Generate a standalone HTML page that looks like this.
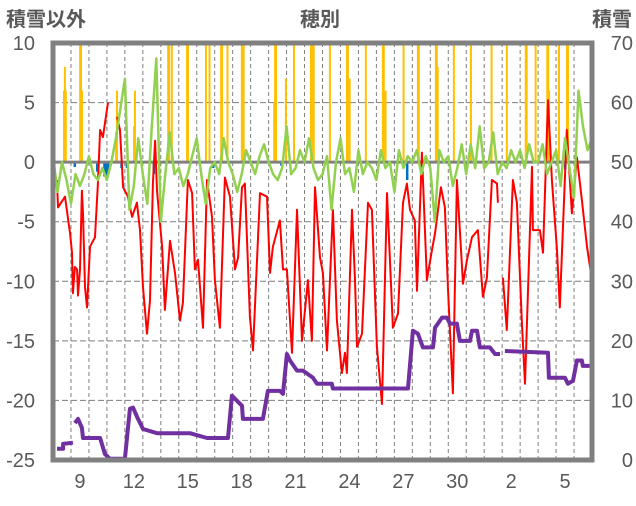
<!DOCTYPE html>
<html><head><meta charset="utf-8"><style>
body{margin:0;background:#fff;}
svg text{font-family:"Liberation Sans","Noto Sans CJK JP",sans-serif;fill:#595959;}
</style></head><body>
<svg id="c" width="636" height="501" xmlns="http://www.w3.org/2000/svg">
<text x="6" y="26" font-size="20" font-weight="bold">積雪以外</text>
<text x="320" y="26" font-size="20" font-weight="bold" text-anchor="middle">穂別</text>
<text x="632" y="26" font-size="20" font-weight="bold" text-anchor="end">積雪</text>
</svg>
<script>
const dayLabels=["9","12","15","18","21","24","27","30","2","5"];
const dayLabelIdx=[1,4,7,10,13,16,19,22,25,28];
const leftTicks=[10,5,0,-5,-10,-15,-20,-25];
const rightTicks=[70,60,50,40,30,20,10,0];
const redT=[0.22,0.28,0.67,0.95,1.06,1.11,1.22,1.34,1.39,1.5,1.61,1.67,1.78,1.89,2.06,2.34,2.5,2.62,2.78,3.06,null,3.56,3.73,3.9,4.17,4.4,4.67,4.84,5.01,5.23,5.4,5.56,5.68,5.79,6.07,6.23,6.51,6.79,7.07,7.23,7.51,7.74,7.9,8.07,8.35,8.57,8.85,9.01,9.29,9.57,9.85,10.13,10.3,10.52,10.68,10.96,11.13,11.52,11.91,12.08,12.24,12.63,12.8,13.02,13.3,13.58,13.86,14.19,14.41,14.58,14.86,15.02,15.25,15.58,15.8,16.08,16.25,16.36,16.64,16.81,16.92,17.2,17.53,17.75,18.03,18.31,18.59,18.92,19.2,19.48,19.7,19.87,20.14,20.26,20.53,20.81,21.09,21.26,21.59,21.81,21.98,22.26,22.48,22.82,23.04,23.32,23.65,23.93,24.15,24.43,24.71,24.76,null,25.04,25.26,25.6,25.82,26.1,26.27,26.66,26.71,27.1,27.27,27.55,27.77,28.05,28.21,28.6,28.88,29.16,29.44,29.72,29.94];
const redV=[-1.5,-3.8,-2.9,-6,-7.6,-11,-8.8,-9,-11.2,-9,-2.4,-4.3,-10.5,-12.2,-7.1,-6.3,-1.8,2.7,2.1,5,null,3.8,2.7,-2.1,-2.9,-4.6,-3.4,-5.7,-10.5,-14.4,-11.6,-1.8,1.8,-2.4,-7.1,-12.4,-6.6,-9.3,-13.3,-11.8,-1.5,-2.6,-9,-8.2,-13.9,-1.5,-4.6,-9.9,-13.9,-1.3,-2.9,-9,-8,-2.1,-1.8,-13,-15.8,-2.6,-2.9,-9.3,-7.1,-4.9,-9,-9,-16,-4,-15,-9.9,-15,-2.1,-8,-9.3,-15.8,-4,-13.3,-17.7,-16,-17.7,-4,-9.9,-15.5,-14.4,-3.4,-4,-15.5,-20.3,-2.6,-13.9,-12.7,-3.4,-1.8,-4,-4.9,-10.8,0.8,-9.9,-7.4,-6,-2.1,-3.8,-10.5,-19.4,-1.5,-10.2,-8.2,-6.3,-5.7,-11.3,-9.7,-1.5,-1.8,-3.4,null,-9.7,-14.1,-1.5,-3.4,-13.5,-18.6,-0.4,-5.7,-5.7,-7.6,5.2,-1.5,-7.4,-12.2,2.7,-4.3,0.4,-3.2,-7.1,-9.3];
const purT=[0.22,0.56,0.56,1.11,null,1.22,1.39,1.61,1.67,2.62,2.89,3.17,4.0,4.28,4.45,4.73,5.01,5.79,7.62,8.57,9.74,9.96,10.52,10.57,11.68,11.96,12.63,12.8,13.02,13.19,13.58,13.91,14.47,14.69,15.25,15.52,15.58,19.76,20.03,20.31,20.59,21.15,21.26,21.65,21.93,22.09,22.48,22.65,23.21,23.32,23.6,23.76,24.32,24.6,24.88,null,25.15,27.55,27.6,28.5,28.66,28.94,29.16,29.44,29.49,29.94];
const purV=[1.9,1.9,2.7,2.9,null,6.2,6.9,5.4,3.7,3.7,1,0.2,0.2,8.6,8.8,6.9,5.2,4.5,4.5,3.7,3.7,10.8,9.1,6.9,6.9,11.6,11.6,11.1,17.8,16.7,15,15,13.8,12.8,12.8,12.8,12,12,21.7,21.2,18.9,18.9,22.2,23.9,23.9,22.9,22.9,20,20,21.7,21.7,18.9,18.9,17.8,17.8,null,18.3,18,13.8,13.8,12.8,13.3,16.7,16.7,15.8,15.8];
const greenV=[0.5,-2.5,0,-1.5,-3.5,-1,-2,-1,0.5,-1,-1.5,-0.5,-1.5,0,2,4.5,7,-4,-2,2,-1,-3.5,3,8.7,-5,-1,2.5,-1,-0.5,-2,-1,0.5,2,-1,-3.5,-0.5,0,-1,2,0,-1,-2.5,-1,1,0,-1,0.5,1.5,0,-1,-1.5,-0.5,3,-1,-0.5,1,0,2,-0.5,-1.5,-1,0.5,-4,0,2,-1,-0.5,-2.5,1,-1,0,-0.5,-1.5,1,-0.5,0,-2.5,1,-0.5,0.5,0,1,-1,0.5,-0.5,-5,1,0,0.5,-2,-0.5,1.5,-1,1.5,-0.5,3,-0.5,0,2.5,-1,0,-0.5,1,0,1,-0.5,1.5,0,0,1.5,-1,0,1,-2,2,-0.5,-3,6,3,1,2];
const goldT=[0.6,0.65,0.7,1.5,1.55,1.6,3.5,3.55,4.5,4.55,6.4,6.45,6.6,7.45,7.5,8.5,8.7,9.35,9.4,9.7,10.5,10.6,12.3,12.35,12.4,12.95,13.4,14.35,14.4,14.5,15.4,16.35,16.4,16.5,17.4,18.35,18.4,18.5,19.5,20.3,20.35,21.3,21.35,21.4,22.3,23.25,24.4,25.25,26.3,26.35,26.85,27.5,27.55,27.6,28.15,28.6,28.65];
const goldV=[6,8,6,10,10,6,2.5,6,3,6,10,10,10,10,10,10,10,10,10,10,10,10,5,10,10,7,10,10,10,10,10,10,10,7,10,10,10,6,10,10,10,10,10,8,10,10,10,10,10,10,10,10,10,6,10,10,10];
const blueT=[0.5,1.2,2.45,2.85,2.95,3.05,3.8,4.1,5.6,8.9,12.7,19.7,28.5];
const blueV=[-0.5,-0.4,-0.8,-1.2,-1.3,-0.8,-0.5,-0.5,-1,-0.5,-0.3,-1.5,-0.6];

const NS="http://www.w3.org/2000/svg";
const svg=document.getElementById('c');
const X0=53,X1=592,Y0=43,Y1=460,ND=30;
const xs=t=>X0+(X1-X0)*t/ND;
const yL=v=>Y0+(10-v)*(Y1-Y0)/35;
const yR=v=>Y1-v*(Y1-Y0)/70;
function mk(tag,a){const e=document.createElementNS(NS,tag);for(const k in a)e.setAttribute(k,a[k]);svg.appendChild(e);return e;}
// grid
for(let i=1;i<ND;i++){const g=mk('line',{x1:xs(i),x2:xs(i),y1:Y0,y2:Y1,stroke:'#7f7f7f','stroke-width':1,'stroke-dasharray':'4,3'});

}
leftTicks.forEach(v=>{if(v!==0&&v!==10&&v!==-25){const g=mk('line',{x1:X0,x2:X1,y1:yL(v),y2:yL(v),stroke:'#7f7f7f','stroke-width':1,'stroke-dasharray':'6,3'});

}
const t=mk('text',{x:35,y:yL(v)+7,'font-size':20,'text-anchor':'end'});t.textContent=v;

});
rightTicks.forEach(v=>{const t=mk('text',{x:633,y:yR(v)+7,'font-size':20,'text-anchor':'end'});t.textContent=v;

});
dayLabels.forEach((l,i)=>{const t=mk('text',{x:xs(dayLabelIdx[i]+0.5),y:488,'font-size':20,'text-anchor':'middle'});t.textContent=l;

});
// bars
goldT.forEach((t,i)=>{const r=mk('rect',{x:xs(t)-0.8,y:yL(goldV[i]),width:2,height:yL(0)-yL(goldV[i]),fill:'#ffc000'});

});
blueT.forEach((t,i)=>{const r=mk('rect',{x:xs(t)-1,y:yL(0),width:2.5,height:yL(blueV[i])-yL(0),fill:'#0070c0'});

});
function path(T,V,yf){let d='',pen=false;T.forEach((t,i)=>{if(t===null||V[i]===null){pen=false;return;}d+=(pen?'L':'M')+xs(t).toFixed(1)+','+yf(V[i]).toFixed(1);pen=true;});return d;}
const gt=greenV.map((v,i)=>i/4);
const zl=mk('line',{x1:X0,x2:X1,y1:yL(0),y2:yL(0),stroke:'#808080','stroke-width':3});


const rp=mk('path',{d:path(redT,redV,yL),fill:'none',stroke:'#ff0000','stroke-width':2,'stroke-linejoin':'round'});


const gp=mk('path',{d:path(gt,greenV,yL),fill:'none',stroke:'#92d050','stroke-width':2.5,'stroke-linejoin':'round'});


const pp=mk('path',{d:path(purT,purV,yR),fill:'none',stroke:'#7030a0','stroke-width':4,'stroke-linejoin':'round'});


const b=mk('rect',{x:X0,y:Y0,width:X1-X0,height:Y1-Y0,fill:'none',stroke:'#808080','stroke-width':5});


</script>
</body></html>
